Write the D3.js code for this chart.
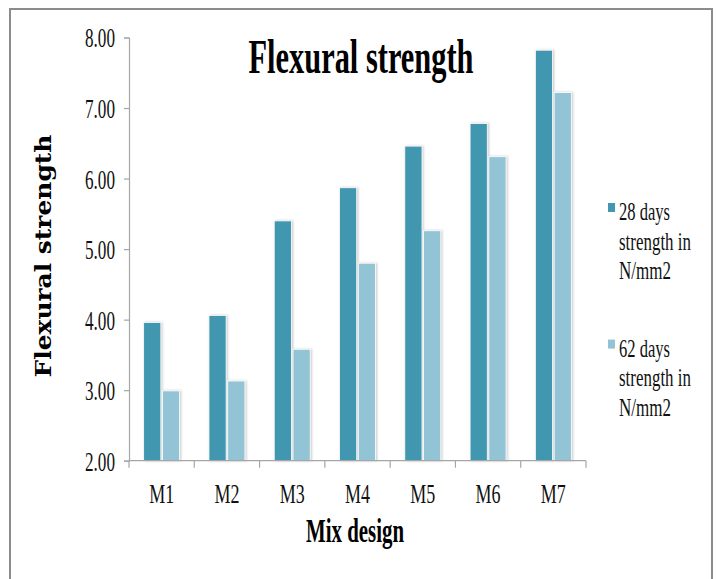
<!DOCTYPE html>
<html>
<head>
<meta charset="utf-8">
<script src="https://cdn.jsdelivr.net/npm/d3@7/dist/d3.min.js"></script>
<style>
  html, body { margin: 0; padding: 0; background: #fff; }
  svg { display: block; }
</style>
</head>
<body>
<svg id="chart" width="716" height="579"></svg>
<script>
const categories = ["M1", "M2", "M3", "M4", "M5", "M6", "M7"];
const seriesNames = ["28 days strength in N/mm2", "62 days strength in N/mm2"];
const days28 = [3.96, 4.06, 5.40, 5.87, 6.46, 6.78, 7.82];
const days62 = [2.99, 3.13, 3.58, 4.80, 5.26, 6.31, 7.22];
const yTicks = [2, 3, 4, 5, 6, 7, 8];
const legendLines = [["28 days", "strength in", "N/mm2"], ["62 days", "strength in", "N/mm2"]];
const colors = ["#4397b0", "#93c4d6"];

(function () {
const svg = d3.select("#chart");
const serif = "'Liberation Serif', 'Times New Roman', serif";

// place a text at (x,y), squeezing it horizontally to a target width
function fitText(parent, str, x, y, width, anchor, attrs) {
  const t = parent.append("text").attr("x", 0).attr("y", 0).attr("text-anchor", anchor).text(str);
  Object.entries(attrs).forEach(([k, v]) => t.attr(k, v));
  const natural = t.node().getComputedTextLength();
  const s = natural > 0 ? width / natural : 1;
  t.attr("transform", `translate(${x},${y}) scale(${s},1)`);
  return t;
}

// frame
svg.append("rect").attr("x", 10).attr("y", 9).attr("width", 702).attr("height", 600)
  .attr("fill", "#fff").attr("stroke", "#8c8c8c").attr("stroke-width", 2);

const defs = svg.append("defs");
const f = defs.append("filter").attr("id", "shadow").attr("x", "-20%").attr("y", "-5%").attr("width", "140%").attr("height", "110%");
f.append("feDropShadow").attr("dx", 1.2).attr("dy", 0).attr("stdDeviation", 1)
  .attr("flood-color", "#888").attr("flood-opacity", 0.45);

const pLeft = 129, pRight = 586, pTop = 37.5, pBottom = 460.7;

const y = d3.scaleLinear().domain([2, 8]).range([pBottom, pTop]);
const x0 = d3.scaleBand().domain(categories).range([pLeft, pRight]).padding(0);
const x1 = d3.scaleBand().domain([0, 1]).range([0, x0.bandwidth()]).paddingInner(0.085).paddingOuter(0.78);

// bars
const data = categories.map((c, i) => ({ c, vals: [days28[i], days62[i]] }));
const g = svg.append("g");
data.forEach(d => {
  d.vals.forEach((v, s) => {
    g.append("rect")
      .attr("x", x0(d.c) + x1(s))
      .attr("y", y(v))
      .attr("width", x1.bandwidth())
      .attr("height", y(2) - y(v))
      .attr("fill", colors[s])
      .attr("stroke", "#fff").attr("stroke-width", 0.8)
      .attr("filter", "url(#shadow)");
  });
});

// y axis
const yAxis = svg.append("g").attr("transform", `translate(${pLeft},0)`)
  .call(d3.axisLeft(y).tickValues(yTicks).tickSize(5).tickPadding(0).tickFormat(d3.format(".2f")));
yAxis.select(".domain").attr("stroke", "#a6a6a6").attr("stroke-width", 1.2);
yAxis.selectAll(".tick line").attr("stroke", "#a6a6a6").attr("stroke-width", 1.2);
yAxis.selectAll(".tick text").each(function (d) {
  const sel = d3.select(this);
  sel.attr("font-family", serif).attr("font-size", 27).attr("fill", "#111")
     .attr("x", 0).attr("y", 0).attr("dy", "0.35em").attr("text-anchor", "end");
  const natural = this.getComputedTextLength();
  sel.attr("transform", `translate(-14,0) scale(${30 / natural},1)`);
});

// x axis
const xAxisG = svg.append("g").attr("transform", `translate(0,${pBottom})`);
xAxisG.append("line").attr("x1", pLeft).attr("x2", pRight).attr("y1", 0).attr("y2", 0)
  .attr("stroke", "#a6a6a6").attr("stroke-width", 1.2);
const boundaries = categories.map(c => x0(c)).concat([pRight]);
xAxisG.selectAll("line.tk").data(boundaries).join("line").attr("class", "tk")
  .attr("x1", d => d).attr("x2", d => d).attr("y1", 0).attr("y2", 7)
  .attr("stroke", "#a6a6a6").attr("stroke-width", 1.2);
categories.forEach(c => {
  fitText(xAxisG, c, x0(c) + x0.bandwidth() / 2, 42, 25, "middle",
    { "font-family": serif, "font-size": 28, "fill": "#111" });
});

// title
fitText(svg, "Flexural strength", 361, 73, 225, "middle",
  { "font-family": serif, "font-weight": "bold", "font-size": 48, "fill": "#000" });

// x title
fitText(svg, "Mix design", 355, 542, 98, "middle",
  { "font-family": serif, "font-weight": "bold", "font-size": 33, "fill": "#000" });

// y title
const yt = svg.append("g").attr("transform", "translate(51,256) rotate(-90)");
fitText(yt, "Flexural strength", 0, 0, 243, "middle",
  { "font-family": "'DejaVu Serif', serif", "font-weight": "bold", "font-size": 22, "fill": "#000" });

// legend
const lg = svg.append("g");
const widths = [51, 72, 52];
legendLines.forEach((lines, i) => {
  const oy = i * 136.6;
  lg.append("rect").attr("x", 608).attr("y", 203 + oy).attr("width", 7).attr("height", 9)
    .attr("fill", colors[i]);
  lines.forEach((t, j) => {
    fitText(lg, t, 619, 220 + oy + j * 29.5, widths[j], "start",
      { "font-family": serif, "font-size": 25, "fill": "#111" });
  });
});
})();
</script>
</body>
</html>
